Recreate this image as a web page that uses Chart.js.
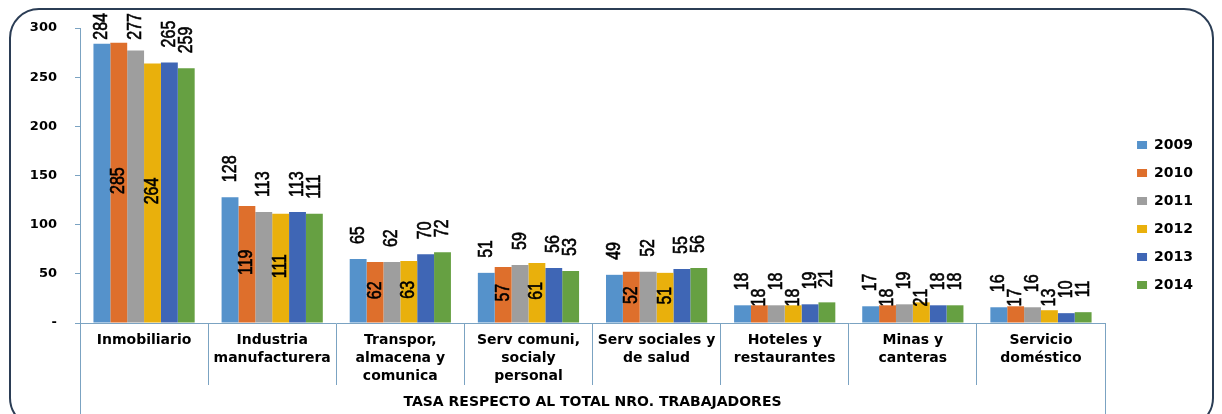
<!DOCTYPE html>
<html>
<head>
<meta charset="utf-8">
<title>Tasa respecto al total nro. trabajadores</title>
<script src="https://cdn.jsdelivr.net/npm/chart.js@4.4.1/dist/chart.umd.min.js"></script>
<style>
    html, body { margin: 0; padding: 0; background: #fff; }
    #wrap { position: relative; width: 1222px; height: 414px; overflow: hidden; }
    #frame {
        position: absolute; left: 9px; top: 8px; width: 1205px; height: 420px;
        border: 2px solid #2b3d55; border-radius: 30px; box-sizing: border-box;
    }
    #chart { position: absolute; left: 0; top: 0; }
</style>
</head>
<body>
<div id="wrap">
    <div id="frame"></div>
    <canvas id="chart" width="1222" height="414"></canvas>
</div>
<script>
// Data
const categories = [
    ['Inmobiliario'],
    ['Industria', 'manufacturera'],
    ['Transpor,', 'almacena y', 'comunica'],
    ['Serv comuni,', 'socialy', 'personal'],
    ['Serv sociales y', 'de salud'],
    ['Hoteles y', 'restaurantes'],
    ['Minas y', 'canteras'],
    ['Servicio', 'doméstico']
];
const years = ['2009', '2010', '2011', '2012', '2013', '2014'];
const values2009 = [284, 128, 65, 51, 49, 18, 17, 16];
const values2010 = [285, 119, 62, 57, 52, 18, 18, 17];
const values2011 = [277, 113, 62, 59, 52, 18, 19, 16];
const values2012 = [264, 111, 63, 61, 51, 18, 21, 13];
const values2013 = [265, 113, 70, 56, 55, 19, 18, 10];
const values2014 = [259, 111, 72, 53, 56, 21, 18, 11];
const yTicks = [0, 50, 100, 150, 200, 250, 300];
const axisTitle = 'TASA RESPECTO AL TOTAL NRO. TRABAJADORES';

const seriesValues = [values2009, values2010, values2011, values2012, values2013, values2014];
const colors = ['#5592cb', '#de6f2c', '#9e9e9e', '#e9b00c', '#3f66b5', '#66a042'];
const axisColor = '#7ba3c2';

// value labels: 2010 and 2012 sit in the middle of the bar, the rest above it
const labelPlugin = {
    id: 'valueLabels',
    afterDatasetsDraw(chart) {
        const ctx = chart.ctx;
        const squeeze = 0.8; // no narrow font installed, so squeeze along the text
        ctx.save();
        ctx.font = '20px "Liberation Sans", Arial, sans-serif';
        ctx.fillStyle = '#000';
        ctx.strokeStyle = '#000';
        ctx.lineWidth = 0.6;
        ctx.textAlign = 'left';
        ctx.textBaseline = 'middle';
        chart.data.datasets.forEach((ds, i) => {
            const meta = chart.getDatasetMeta(i);
            const inside = (i === 1 || i === 3);
            meta.data.forEach((bar, j) => {
                const txt = String(ds.data[j]);
                const w = ctx.measureText(txt).width * squeeze;
                let bottom;
                if (inside) {
                    const mid = (bar.y + bar.base) / 2 - 2;
                    bottom = Math.min(mid + w / 2, bar.base - 16);
                } else {
                    bottom = Math.max(bar.y - 15, 13 + w);
                }
                ctx.save();
                ctx.translate(bar.x, bottom);
                ctx.rotate(-Math.PI / 2);
                ctx.scale(squeeze, 1);
                ctx.fillText(txt, 0, 0);
                ctx.strokeText(txt, 0, 0);
                ctx.restore();
            });
        });
        ctx.restore();
    },
    afterLayout(chart) {
        // move the legend a little right and up
        const lg = chart.legend;
        lg.left += 18; lg.right += 18;
        lg.top -= 6; lg.bottom -= 6;
    },
    afterDraw(chart) {
        // outer category level: first and last boundaries run down to the bottom
        const ctx = chart.ctx;
        const x = chart.scales.x;
        ctx.save();
        ctx.strokeStyle = axisColor;
        ctx.lineWidth = 1;
        ctx.beginPath();
        ctx.moveTo(Math.round(x.left) + 0.5, x.top);
        ctx.lineTo(Math.round(x.left) + 0.5, chart.height);
        ctx.moveTo(Math.round(x.right) + 0.5, x.top);
        ctx.lineTo(Math.round(x.right) + 0.5, chart.height);
        ctx.stroke();
        ctx.restore();
    }
};

const datasets = years.map((y, i) => ({
    label: y,
    data: seriesValues[i],
    backgroundColor: colors[i],
    borderWidth: 0,
    categoryPercentage: 0.79,
    barPercentage: 1.0
}));

new Chart(document.getElementById('chart'), {
    type: 'bar',
    data: { labels: categories, datasets: datasets },
    options: {
        responsive: false,
        animation: false,
        devicePixelRatio: 1,
        layout: { padding: { top: 28, right: 37, left: 0, bottom: 0 } },
        plugins: {
            tooltip: { enabled: false },
            legend: {
                position: 'right',
                align: 'center',
                labels: {
                    boxWidth: 10,
                    boxHeight: 8,
                    padding: 14,
                    color: '#000',
                    font: { family: 'DejaVu Sans', size: 14, weight: 'bold' }
                }
            }
        },
        scales: {
            x: {
                grid: { drawOnChartArea: false, tickLength: 62, color: axisColor, offset: true },
                border: { color: axisColor },
                ticks: {
                    padding: -54,
                    color: '#000',
                    maxRotation: 0,
                    autoSkip: false,
                    font: { family: 'DejaVu Sans', size: 14, weight: 'bold', lineHeight: 1.29 }
                },
                title: {
                    display: true,
                    text: axisTitle,
                    color: '#000',
                    padding: { top: 0, bottom: 3 },
                    font: { family: 'DejaVu Sans', size: 14, weight: 'bold' }
                },
                afterFit(scale) { scale.height = 91; }
            },
            y: {
                min: 0,
                max: 300,
                afterBuildTicks(scale) { scale.ticks = yTicks.map(v => ({ value: v })); },
                grid: { drawOnChartArea: false, tickLength: 5, color: axisColor },
                border: { color: axisColor },
                ticks: {
                    padding: 18,
                    color: '#000',
                    font: { family: 'DejaVu Sans', size: 13, weight: 'bold' },
                    callback: v => v === 0 ? '-' : v
                },
                afterFit(scale) { scale.width = 80; }
            }
        }
    },
    plugins: [labelPlugin]
});
</script>
</body>
</html>
